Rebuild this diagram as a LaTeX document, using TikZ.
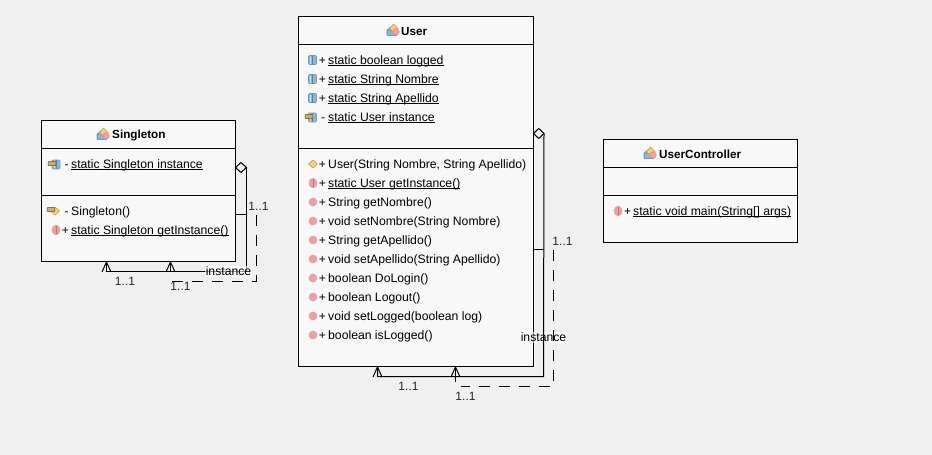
\documentclass[tikz,border=0pt]{standalone}
\usepackage{fontspec}
\setmainfont{Liberation Sans}
\definecolor{bgc}{HTML}{F0F0F0}
\definecolor{boxc}{HTML}{F8F8F8}
\definecolor{fblue}{HTML}{8DB6D8}
\definecolor{dblue}{HTML}{4F83AD}
\definecolor{mred}{HTML}{F0A0A0}
\definecolor{dred}{HTML}{C87070}
\definecolor{orng}{HTML}{F5D27E}
\definecolor{dorng}{HTML}{C89A48}
\definecolor{lockc}{HTML}{DDA860}
\usetikzlibrary{arrows.meta}
\tikzset{
  x=1pt,y=-1pt,
  umlbox/.style={draw=black,fill=boxc,line width=1pt,anchor=north west,inner sep=0pt,outer sep=0pt},
  sepline/.style={line width=1pt},
  title/.style={font=\fontsize{11.7}{14}\selectfont\bfseries,anchor=base west,inner sep=0pt},
  member/.style={font=\fontsize{12.2}{14}\selectfont,anchor=base west,inner sep=0pt},
  vis/.style={font=\fontsize{12}{14}\selectfont,anchor=base,inner sep=0pt},
  conn/.style={line width=1pt},
  dashconn/.style={line width=1pt,dash pattern=on 11pt off 9pt},
  tip/.style={line width=1pt},
  lab/.style={font=\fontsize{12}{14}\selectfont,inner sep=0pt,text=black!85},
  labw/.style={font=\fontsize{12.2}{14}\selectfont,inner xsep=1pt,inner ysep=1.5pt,fill=white,fill opacity=.6,text opacity=1},
  pics/fieldicon/.style={code={
    \draw[dblue!80,fill=fblue,line width=.6pt,rounded corners=1pt] (-4,-4.5) rectangle (4,4.5);
    \draw[dblue,line width=1pt] (0,-4.5) -- (0,4.5);
    \draw[white!60!fblue,line width=.7pt] (-2,-3.5) -- (-2,3.5);}},
  pics/lockicon/.style={code={
    \fill[gray!75] (-3.5,-.5) arc[start angle=180,end angle=0,radius=3.5] -- cycle;
    \draw[black!55!lockc,fill=lockc,line width=.5pt,rounded corners=.5pt] (-3.8,-.5) rectangle (3.8,3.5);}},
  pics/smethodicon/.style={code={
    \fill[mred] (0,0) ellipse[x radius=4,y radius=4.8];
    \draw[dred,line width=.5pt] (0,-4.4) -- (0,4.4);
    \draw[dred!70,line width=.5pt] (0,0) ellipse[x radius=4,y radius=4.8];}},
  pics/methodicon/.style={code={
    \fill[mred] (0,0) circle[radius=4];
    \draw[dred!70,line width=.5pt] (0,0) circle[radius=4];}},
  pics/ctoricon/.style={code={
    \draw[dorng,fill=orng,line width=.6pt] (-4.5,0) -- (0,-4) -- (4.5,0) -- (0,4) -- cycle;}},
  pics/classicon/.style={code={
    \draw[dblue!80,fill=fblue,line width=.6pt] (-6,0) -- (-1,-4) -- (-1,5) -- (-6,5) -- cycle;
    \draw[dblue!80,fill=fblue,line width=.6pt] (-6,0) rectangle (3,5);
    \draw[dorng,fill=orng,line width=.6pt] (-3.5,-1) -- (0.5,-6) -- (5,-1.5) -- (1,2.5) -- cycle;
    \draw[dred!80,fill=mred,line width=.5pt] (3,2) circle[radius=3.3];}},
}
\newcommand{\mrow}[6]{% name, signx, textx, y, sign, text
  \node[vis] (#1v) at (#2,#4+4) {#5};
  \node[member] (#1) at (#3,#4+4) {#6};}
\newcommand{\ulin}[1]{\setbox0=\hbox{#1}\rlap{\rule[-1.9pt]{\wd0}{0.9pt}}\box0}
\begin{document}
\begin{tikzpicture}
\useasboundingbox (0,0) rectangle (932,455);
\fill[bgc] (0,0) rectangle (932,455);

% ---------- Singleton
\node[umlbox,minimum width=194pt,minimum height=141pt] (sbox) at (41.5,120.5) {};
\coordinate (sh1) at (41.5,148.5); \coordinate (sh2) at (235.5,148.5);
\coordinate (sd1) at (41.5,195.5); \coordinate (sd2) at (235.5,195.5);
\draw[sepline] (sh1) -- (sh2) (sd1) -- (sd2);
\pic at (103,134) {classicon};
\node[title] (stitle) at (112,138) {Singleton};
\pic at (56,164.5) {fieldicon}; \pic at (52,162) {lockicon};
\mrow{sa}{66.5}{71}{164}{-}{\ulin{static Singleton instance}}
\pic at (55,211) {ctoricon}; \pic at (51,208) {lockicon};
\mrow{sm}{66.5}{71}{211}{-}{Singleton()}
\pic at (56,230) {smethodicon};
\mrow{sn}{65.5}{71}{230}{+}{\ulin{static Singleton getInstance()}}

% ---------- User
\node[umlbox,minimum width=235pt,minimum height=350pt] (ubox) at (298.5,16.5) {};
\coordinate (uh1) at (298.5,44.5); \coordinate (uh2) at (533.5,44.5);
\coordinate (ud1) at (298.5,148.5); \coordinate (ud2) at (533.5,148.5);
\draw[sepline] (uh1) -- (uh2) (ud1) -- (ud2);
\pic at (393,30) {classicon};
\node[title] (utitle) at (401,35) {User};
\pic at (312.5,60) {fieldicon};
\mrow{ua}{322.5}{328}{60}{+}{\ulin{static boolean logged}}
\pic at (312.5,79) {fieldicon};
\mrow{ub}{322.5}{328}{79}{+}{\ulin{static String Nombre}}
\pic at (312.5,98) {fieldicon};
\mrow{uc}{322.5}{328}{98}{+}{\ulin{static String Apellido}}
\pic at (312.5,117.5) {fieldicon}; \pic at (309,115) {lockicon};
\mrow{ud}{323}{328}{117}{-}{\ulin{static User instance}}
\pic at (313,164) {ctoricon};
\mrow{ue}{322.5}{328}{164}{+}{User(String Nombre, String Apellido)}
\pic at (313,183) {smethodicon};
\mrow{uf}{322.5}{328}{183}{+}{\ulin{static User getInstance()}}
\pic at (313,202) {methodicon};
\mrow{ug}{322.5}{328}{202}{+}{String getNombre()}
\pic at (313,221) {methodicon};
\mrow{uh}{322.5}{328}{221}{+}{void setNombre(String Nombre)}
\pic at (313,240) {methodicon};
\mrow{ui}{322.5}{328}{240}{+}{String getApellido()}
\pic at (313,259) {methodicon};
\mrow{uj}{322.5}{328}{259}{+}{void setApellido(String Apellido)}
\pic at (313,278) {methodicon};
\mrow{uk}{322.5}{328}{278}{+}{boolean DoLogin()}
\pic at (313,297) {methodicon};
\mrow{ul}{322.5}{328}{297}{+}{boolean Logout()}
\pic at (313,316) {methodicon};
\mrow{um}{322.5}{328}{316}{+}{void setLogged(boolean log)}
\pic at (313,335) {methodicon};
\mrow{un}{322.5}{328}{335}{+}{boolean isLogged()}

% ---------- UserController
\node[umlbox,minimum width=194pt,minimum height=103pt] (cbox) at (603.5,139.5) {};
\coordinate (ch1) at (603.5,167.5); \coordinate (ch2) at (797.5,167.5);
\coordinate (cd1) at (603.5,195.5); \coordinate (cd2) at (797.5,195.5);
\draw[sepline] (ch1) -- (ch2) (cd1) -- (cd2);
\pic at (650,153) {classicon};
\node[title] (ctitle) at (659,158) {UserController};
\pic at (618,211) {smethodicon};
\mrow{ca}{627.5}{633}{211}{+}{\ulin{static void main(String[] args)}}

% ---------- pale patch under the User label, under its connectors
\node[labw] (l8bg) at (543.5,337.5) {\phantom{instance}};

% ---------- Singleton connectors
\coordinate (sdi) at (235.5,167.5);
\coordinate (sc1) at (246.5,271.5);
\coordinate (sc2) at (106.5,271.5);
\coordinate (sa1) at (106.5,262);
\coordinate (sb0) at (235.5,214.5);
\coordinate (sb1) at (246.5,214.5);
\coordinate (sb2) at (170.5,271.5);
\coordinate (sa2) at (170.5,262);
\coordinate (sd0) at (256.5,215);
\coordinate (sd3) at (256.5,281.5);
\coordinate (sd4) at (170.5,281.5);
\draw[conn] (sdi) ++(11,0) -- (sc1) -- (sc2) -- (sa1);
\draw[conn] (sb0) -- (sb1);
\draw[conn] (sb2) -- (sa2);
\draw[dashconn] (sd0) -- (sd3) -- (sd4);
\draw[conn,fill=bgc] (sdi) -- ++(5.5,-5) -- ++(5.5,5) -- ++(-5.5,5) -- cycle;
\draw[tip] (102,272) -- (sa1) -- (111,272);
\draw[tip] (166,272) -- (sa2) -- (175,272);

% ---------- User connectors
\coordinate (udi) at (533.5,133.5);
\coordinate (uc1) at (543.5,376.5);
\coordinate (uc2) at (377.5,376.5);
\coordinate (ua1) at (377.5,367);
\coordinate (ub0) at (533.5,249.5);
\coordinate (ub1) at (543.5,249.5);
\coordinate (ub2) at (455.5,381.5);
\coordinate (ua2) at (455.5,367);
\coordinate (ud0) at (553.5,250);
\coordinate (ud3) at (553.5,386.5);
\coordinate (ud4) at (460.5,386.5);
\draw[conn] (udi) ++(10.5,0) -- (uc1) -- (uc2) -- (ua1);
\draw[conn] (ub0) -- (ub1);
\draw[conn] (ub2) -- (ua2);
\draw[dashconn] (ud0) -- (ud3) -- (ud4);
\draw[conn,fill=bgc] (udi) -- ++(5.25,-5) -- ++(5.25,5) -- ++(-5.25,5) -- cycle;
\draw[tip] (373,377) -- (ua1) -- (382,377);
\draw[tip] (451,377) -- (ua2) -- (460,377);

% ---------- Labels
\node[lab] (l1) at (258.5,206) {1..1};
\node[lab] (l2) at (125,281) {1..1};
\node[lab] (l3) at (180.5,286) {1..1};
\node[labw] (l4) at (228.5,271.5) {instance};
\node[lab] (l5) at (562.5,241) {1..1};
\node[lab] (l6) at (408.5,386) {1..1};
\node[lab] (l7) at (465.5,396) {1..1};
\node[font=\fontsize{12.2}{14}\selectfont,inner sep=0pt] (l8) at (l8bg) {instance};
\end{tikzpicture}
\end{document}
